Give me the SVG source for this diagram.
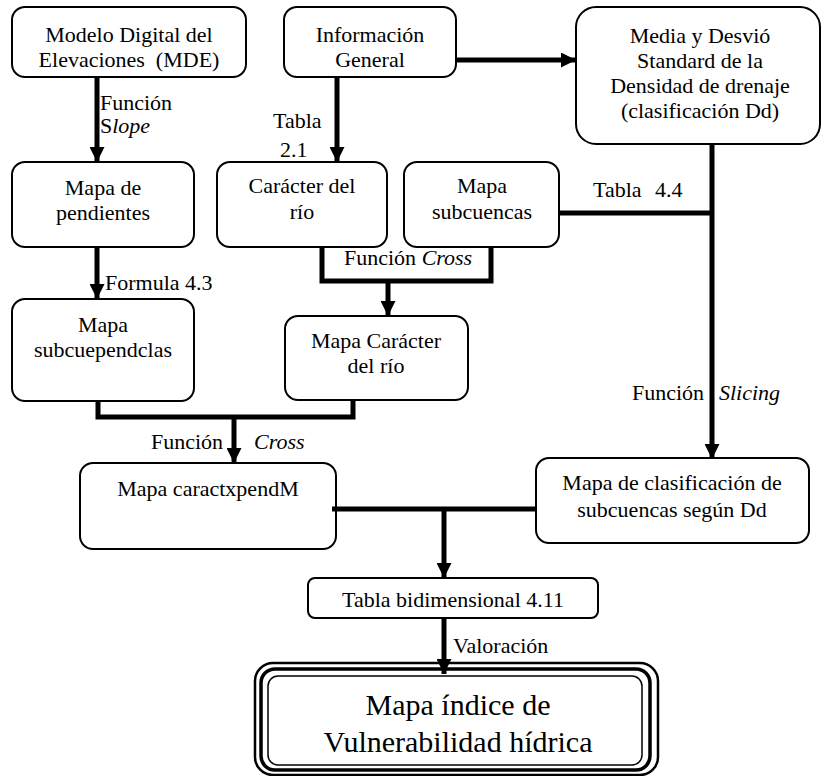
<svg xmlns="http://www.w3.org/2000/svg" width="822" height="776" viewBox="0 0 822 776" font-family="'Liberation Serif', 'DejaVu Serif', serif">
<style>
.box{fill:#fff;stroke:#000;stroke-width:2}
.t{font-family:'Liberation Serif','DejaVu Serif',serif;font-size:22px;fill:#000;text-anchor:middle}
.l{font-family:'Liberation Serif','DejaVu Serif',serif;font-size:22px;fill:#000}
.big{font-family:'Liberation Serif','DejaVu Serif',serif;font-size:30px;fill:#000;text-anchor:middle}
.c{fill:none;stroke:#000;stroke-width:5}
.i{font-style:italic}
</style>
<defs>
<marker id="ah" markerUnits="userSpaceOnUse" markerWidth="15" markerHeight="15" refX="15" refY="7.5" orient="auto">
<path d="M0,0 L15,7.5 L0,15 z" fill="#000"/>
</marker>
</defs>
<rect width="822" height="776" fill="#fff"/>

<g id="n-mde">
<rect class="box" x="12" y="7" width="234" height="70" rx="13"/>
<text class="t" x="129" y="42">Modelo Digital del</text>
<text class="t" x="129" y="67" xml:space="preserve">Elevaciones  (MDE)</text>
</g>
<g id="n-info">
<rect class="box" x="284" y="7" width="172" height="70" rx="13"/>
<text class="t" x="370" y="42">Información</text>
<text class="t" x="370" y="67">General</text>
</g>
<g id="n-media">
<rect class="box" x="576" y="7" width="244" height="137" rx="20"/>
<text class="t" x="700" y="43">Media y Desvió</text>
<text class="t" x="700" y="68">Standard de la</text>
<text class="t" x="700" y="93">Densidad de drenaje</text>
<text class="t" x="700" y="118">(clasificación Dd)</text>
</g>
<g id="n-pend">
<rect class="box" x="12" y="162" width="182" height="85" rx="13"/>
<text class="t" x="103" y="195">Mapa de</text>
<text class="t" x="103" y="220">pendientes</text>
</g>
<g id="n-caracter">
<rect class="box" x="217" y="162" width="170" height="85" rx="13"/>
<text class="t" x="302" y="193">Carácter del</text>
<text class="t" x="302" y="219">río</text>
</g>
<g id="n-subc">
<rect class="box" x="404" y="162" width="155" height="85" rx="13"/>
<text class="t" x="482" y="193">Mapa</text>
<text class="t" x="482" y="219">subcuencas</text>
</g>
<g id="n-subcue">
<rect class="box" x="12" y="299" width="182" height="102" rx="13"/>
<text class="t" x="103" y="332">Mapa</text>
<text class="t" x="103" y="357">subcuependclas</text>
</g>
<g id="n-mapacar">
<rect class="box" x="285" y="316" width="183" height="84" rx="13"/>
<text class="t" x="376" y="348">Mapa Carácter</text>
<text class="t" x="376" y="373">del río</text>
</g>
<g id="n-caractx">
<rect class="box" x="80" y="463" width="256" height="86" rx="13"/>
<text class="t" x="208" y="496">Mapa caractxpendM</text>
</g>
<g id="n-clasif">
<rect class="box" x="536" y="458" width="273" height="85" rx="13"/>
<text class="t" x="672" y="490">Mapa de clasificación de</text>
<text class="t" x="672" y="517">subcuencas según Dd</text>
</g>
<g id="n-tabla">
<rect class="box" x="308" y="578" width="290" height="40" rx="7"/>
<text class="t" x="453" y="607">Tabla bidimensional 4.11</text>
</g>
<g id="n-final">
<rect x="255" y="663" width="403" height="112" rx="18" fill="#fff" stroke="#000" stroke-width="2.5"/>
<rect x="261" y="669" width="389" height="101" rx="14" fill="none" stroke="#000" stroke-width="3.5"/>
<rect x="268" y="676" width="374" height="89" rx="10" fill="none" stroke="#000" stroke-width="1.5"/>
<text class="big" x="458" y="715">Mapa índice de</text>
<text class="big" x="458" y="752">Vulnerabilidad hídrica</text>
</g>

<g id="connectors">
<path class="c" d="M97,77 V162" marker-end="url(#ah)"/>
<path class="c" d="M337,77 V162" marker-end="url(#ah)"/>
<path class="c" d="M456,60 H576" marker-end="url(#ah)"/>
<path class="c" d="M712,144 V459" marker-end="url(#ah)"/>
<path class="c" d="M559,213 H712"/>
<path class="c" d="M97,247 V299" marker-end="url(#ah)"/>
<path class="c" d="M322,247 V281 H491 V247"/>
<path class="c" d="M388,281 V316" marker-end="url(#ah)"/>
<path class="c" d="M98,401 V417 H353 V400"/>
<path class="c" d="M234,417 V463" marker-end="url(#ah)"/>
<path class="c" d="M332,509 H536"/>
<path class="c" d="M444,509 V578" marker-end="url(#ah)"/>
<path class="c" d="M444,619 V674" marker-end="url(#ah)"/>
</g>

<g id="labels">
<text class="l" x="100" y="110">Función</text>
<text class="l" x="100" y="133">S<tspan class="i">lope</tspan></text>
<text class="l" x="273" y="128">Tabla</text>
<text class="l" x="280" y="157">2.1</text>
<text class="l" x="593" y="197">Tabla<tspan x="655">4.4</tspan></text>
<text class="l" x="105" y="290">Formula 4.3</text>
<text class="l" x="344" y="265">Función <tspan class="i">Cross</tspan></text>
<text class="l" x="151" y="449">Función</text>
<text class="l i" x="254" y="449">Cross</text>
<text class="l" x="632" y="400">Función</text>
<text class="l i" x="719" y="400">Slicing</text>
<text class="l" x="453" y="653">Valoración</text>
</g>
</svg>
